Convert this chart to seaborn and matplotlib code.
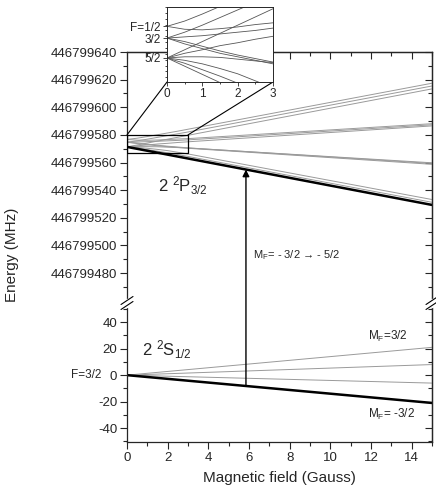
import matplotlib
matplotlib.use("Agg")
import matplotlib.pyplot as plt
from matplotlib.patches import Rectangle, ConnectionPatch
from matplotlib.lines import Line2D
from matplotlib.ticker import MultipleLocator, FixedLocator, FuncFormatter
import seaborn as sns

# energies of 2P3/2 are given relative to this offset (MHz)
OFFSET = 446799000

# magnetic field grid (Gauss) for the 2P3/2 sublevels
p_field = [0, 0.5, 1, 1.5, 2, 2.5, 3, 15]

# 2P3/2 sublevels, energy - OFFSET (MHz)
p_mf_p52 = [571.3, 572.7, 574.1, 575.5, 576.9, 578.3, 579.7, 613.3]
p_mf_p32_a = [574.7, 575.7, 576.9, 578.2, 579.5, 580.8, 582.1, 615.4]
p_mf_p32_b = [571.3, 572.1, 572.7, 573.4, 573.9, 574.5, 575.0, 586.5]
p_mf_p12_a = [576.7, 577.6, 578.8, 580.1, 581.4, 582.7, 584.1, 617.4]
p_mf_p12_b = [574.7, 574.9, 575.1, 575.4, 575.7, 576.0, 576.4, 587.3]
p_mf_p12_c = [571.3, 571.5, 571.5, 571.4, 571.1, 570.8, 570.5, 559.8]
p_mf_m12_a = [576.7, 576.2, 576.1, 576.3, 576.6, 577.0, 577.3, 588.1]
p_mf_m12_b = [574.7, 574.1, 573.3, 572.5, 571.8, 571.2, 570.6, 559.3]
p_mf_m12_c = [571.3, 570.9, 570.3, 569.5, 568.6, 567.4, 566.2, 533.2]
p_mf_m32_a = [574.7, 573.7, 572.9, 572.1, 571.5, 570.9, 570.3, 558.7]
p_mf_m32_b = [571.3, 570.4, 569.3, 568.2, 567.0, 565.7, 564.4, 531.2]
p_mf_m52 = [571.3, 569.9, 568.5, 567.1, 565.7, 564.3, 562.9, 529.3]

p_thin = [p_mf_p52, p_mf_p32_a, p_mf_p32_b, p_mf_p12_a, p_mf_p12_b,
          p_mf_p12_c, p_mf_m12_a, p_mf_m12_b, p_mf_m12_c, p_mf_m32_a,
          p_mf_m32_b]

# 2S1/2 F=3/2 sublevels (MHz)
s_field = [0, 15]
s_mf_p32 = [0, 21]
s_mf_p12 = [0, 8]
s_mf_m12 = [0, -6]
s_mf_m32 = [0, -21]

# tick values
top_ticks = [480, 500, 520, 540, 560, 580, 600, 620, 640]
bot_ticks = [-40, -20, 0, 20, 40]

# hyperfine levels at zero field (inset labels)
hf_levels = [576.7, 574.7, 571.3]
hf_labels = ["F=1/2", "3/2", "5/2"]

# transition arrow
arrow_x = 5.85
arrow_lower = -8.2
arrow_upper = 554.9

W, H = 436, 497
sns.set_style("ticks")
plt.rcParams["font.family"] = ["Liberation Sans", "DejaVu Sans"]
plt.rcParams["mathtext.default"] = "regular"
plt.rcParams["axes.unicode_minus"] = False

fig = plt.figure(figsize=(W / 100, H / 100), dpi=100)
ax_top = fig.add_axes([127 / W, 194 / H, 305 / W, 251 / H])
ax_bot = fig.add_axes([127 / W, 55 / H, 305 / W, 139 / H])

grey = "#9a9a9a"


def draw(ax, x, y, color, lw, off=0):
    sns.lineplot(x=x, y=[v + off for v in y], ax=ax, color=color, lw=lw,
                 estimator=None, sort=False, legend=False)


for lev in p_thin:
    draw(ax_top, p_field, lev, grey, 0.7, OFFSET)
draw(ax_top, p_field, p_mf_m52, "black", 1.8, OFFSET)

for lev in [s_mf_p32, s_mf_p12, s_mf_m12]:
    draw(ax_bot, s_field, lev, grey, 0.7)
draw(ax_bot, s_field, s_mf_m32, "black", 1.8)

ax_top.set_xlim(0, 15)
ax_bot.set_xlim(0, 15)
ax_top.set_ylim(OFFSET + 458.3, OFFSET + 640)
ax_bot.set_ylim(-50.5, 54.5)

top_major = [OFFSET + t for t in top_ticks]
top_minor = [OFFSET + t for t in range(470, 640, 10)]
ax_top.yaxis.set_major_locator(FixedLocator(top_major))
ax_top.yaxis.set_minor_locator(FixedLocator(top_minor))
ax_top.yaxis.set_major_formatter(FuncFormatter(lambda v, p: "%d" % round(v)))
ax_bot.yaxis.set_major_locator(FixedLocator(bot_ticks))
ax_bot.yaxis.set_minor_locator(FixedLocator(list(range(-50, 55, 10))))
ax_bot.xaxis.set_major_locator(MultipleLocator(2))
ax_bot.xaxis.set_minor_locator(MultipleLocator(1))

for ax, major, minor in ((ax_top, top_major, top_minor),
                         (ax_bot, bot_ticks, list(range(-50, 55, 10)))):
    ax.set_xlabel("")
    ax.set_ylabel("")
    ax.tick_params(axis="both", which="major", length=5, width=0.8,
                   labelsize=9.5, direction="out", pad=2)
    ax.tick_params(axis="both", which="minor", length=3, width=0.8,
                   direction="out")
    for s in ax.spines.values():
        s.set_linewidth(0.9)
    sec = ax.secondary_yaxis("right")
    sec.yaxis.set_major_locator(FixedLocator(major))
    sec.yaxis.set_minor_locator(FixedLocator(minor))
    sec.tick_params(which="major", direction="in", length=5, width=0.8,
                    labelright=False)
    sec.tick_params(which="minor", direction="in", length=3, width=0.8)
    sec.spines["right"].set_linewidth(0.9)

ax_top.spines["bottom"].set_visible(False)
ax_top.tick_params(axis="x", which="both", bottom=False, labelbottom=False)
ax_bot.spines["top"].set_visible(False)

sec_x = ax_top.secondary_xaxis("top")
sec_x.xaxis.set_major_locator(MultipleLocator(2))
sec_x.xaxis.set_minor_locator(MultipleLocator(1))
sec_x.tick_params(which="major", direction="in", length=5, width=0.8,
                  labeltop=False)
sec_x.tick_params(which="minor", direction="in", length=3, width=0.8)
sec_x.spines["top"].set_linewidth(0.9)

ax_bot.set_xlabel("Magnetic field (Gauss)", fontsize=11, labelpad=5)
fig.text(12 / W, (H - 255) / H, "Energy (MHz)", rotation=90, fontsize=11,
         ha="center", va="center")

# zoom box and inset
ax_top.add_patch(Rectangle((0, OFFSET + 567.2), 3, 12.8, fill=False,
                           ec="black", lw=0.9, zorder=5))

ax_in = fig.add_axes([167 / W, (H - 82) / H, 106 / W, 75 / H])
ax_in.set_zorder(10)
for lev in p_thin + [p_mf_m52]:
    draw(ax_in, p_field, lev, "#555555", 0.6)
ax_in.set_xlim(0, 3)
ax_in.set_ylim(567.2, 580)
ax_in.xaxis.set_major_locator(MultipleLocator(1))
ax_in.xaxis.set_minor_locator(MultipleLocator(0.5))
ax_in.yaxis.set_major_locator(FixedLocator(hf_levels))
ax_in.yaxis.set_minor_locator(MultipleLocator(1))
ax_in.set_yticklabels(hf_labels)
ax_in.set_xlabel("")
ax_in.set_ylabel("")
ax_in.tick_params(which="major", length=3, width=0.6, labelsize=8.5, pad=1.5)
ax_in.tick_params(which="minor", length=1.5, width=0.6)
for s in ax_in.spines.values():
    s.set_linewidth(0.7)

for xa, xb in [((0, OFFSET + 580), (0, 0)), ((3, OFFSET + 580), (1, 0))]:
    con = ConnectionPatch(xyA=xa, coordsA=ax_top.transData, xyB=xb,
                          coordsB=ax_in.transAxes, color="black", lw=0.8)
    fig.add_artist(con)

# transition arrow across the break
arr = ConnectionPatch(xyA=(arrow_x, arrow_lower), coordsA=ax_bot.transData,
                      xyB=(arrow_x, OFFSET + arrow_upper),
                      coordsB=ax_top.transData, arrowstyle="-|>",
                      mutation_scale=10, color="black", lw=1.0)
fig.add_artist(arr)

# axis break marks
for xpx in (127, 432):
    fig.add_artist(Line2D([xpx / W, xpx / W], [191 / H, 197 / H],
                          color="white", lw=2.5))
    for dy in (-2.5, 2.5):
        fig.add_artist(Line2D([(xpx - 6) / W, (xpx + 6) / W],
                              [(194 + dy - 4) / H, (194 + dy + 4) / H],
                              color="black", lw=0.8))

# labels
ax_top.text(1.5, OFFSET + 543.5, r"2 $^{2}$P$_{3/2}$", fontsize=12,
            va="center")
ax_top.text(6.2, OFFSET + 493, r"M$_{F}$= - 3/2 → - 5/2", fontsize=8,
            va="center")
ax_bot.text(0.75, 19.5, r"2 $^{2}$S$_{1/2}$", fontsize=12, va="center")
ax_bot.text(11.85, 29.5, r"M$_{F}$=3/2", fontsize=8.5, va="center")
ax_bot.text(11.85, -29.5, r"M$_{F}$= -3/2", fontsize=8.5, va="center")
ax_bot.text(-2.0, 0, "F=3/2", fontsize=8.5, va="center", ha="center",
            clip_on=False)

fig.savefig("out.png", dpi=100)
